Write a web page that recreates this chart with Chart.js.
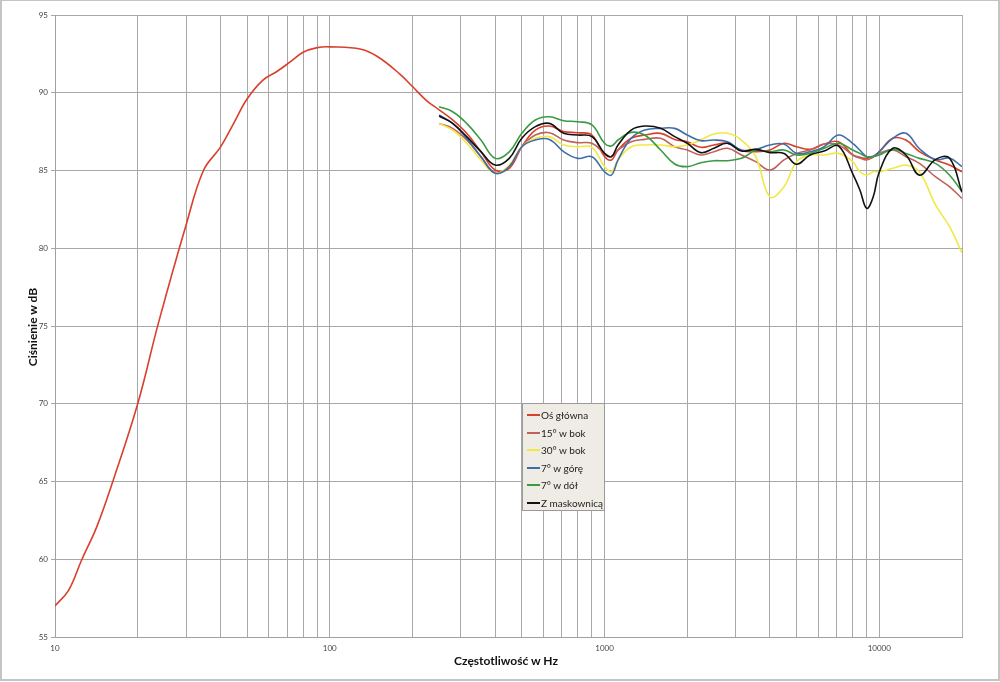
<!DOCTYPE html>
<html>
<head>
<meta charset="utf-8">
<script src="https://cdn.jsdelivr.net/npm/chart.js@4"></script>
<style>
  body { margin: 0; background: #fff; }
  #wrap { position: relative; width: 1000px; height: 682px; }
  #frame { position: absolute; left: 0; top: 0; width: 996px; height: 678px; border: 2px solid #c4c4c4; border-top-width: 1px; pointer-events: none; }
  .axis-title { position: absolute; font-family: Lato, "Noto Sans", sans-serif; font-weight: bold; font-size: 12px; color: #111; white-space: nowrap; }
  #xtitle { left: 506px; top: 653px; transform: translateX(-50%); }
  #ytitle { left: 32px; top: 327px; transform: translate(-50%, -50%) rotate(-90deg); }
  #legend { position: absolute; left: 522px; top: 403px; width: 81px; height: 106px; background: #eeece4; border: 1px solid #9a9a9a; font-family: Lato, "Noto Sans", sans-serif; font-size: 10px; color: #222; }
  #legend div { position: absolute; left: 4px; height: 14px; line-height: 14px; white-space: nowrap; }
  #legend span { display: inline-block; width: 13px; height: 2px; vertical-align: middle; margin-right: 1px; position: relative; top: -1px; }
</style>
</head>
<body>
<div id="wrap">
  <canvas id="chart" width="1000" height="682"></canvas>
  <div id="frame"></div>
  <div class="axis-title" id="xtitle">Częstotliwość w Hz</div>
  <div class="axis-title" id="ytitle">Ciśnienie w dB</div>
  <div id="legend"></div>
</div>
<script>
// low end of the main axis curve (only "Oś główna" goes down here)
const freqLo = [10, 11.2, 12.5, 14.2, 16.3, 20, 23.8, 30, 34.7, 40, 44.6, 50, 57, 64, 72, 80, 90, 100, 130, 150, 180, 200, 225];
const mainLo = [57.0, 58.0, 59.95, 62.1, 65.1, 70.0, 75.2, 81.5, 85.0, 86.5, 88.0, 89.6, 90.8, 91.35, 92.0, 92.6, 92.9, 92.95, 92.8, 92.3, 91.2, 90.4, 89.5];

// all six measurements from 250 Hz up
const freqHi = [250, 280, 315, 355, 400, 450, 500, 560, 630, 710, 800, 900, 1000, 1060, 1120, 1250, 1400, 1600, 1800, 2000,
  2240, 2500, 2800, 3150, 3550, 4000, 4500, 5000, 5600, 6300, 7100, 8000, 8500, 9000, 9500, 10000, 11200, 12500, 14000, 16000, 18000, 20000];
const mainHi = [88.9, 88.25, 87.39, 86.21, 85.03, 85.14, 86.53, 87.6, 87.86, 87.5, 87.43, 87.28, 85.9, 85.68, 86.32, 87.07, 87.28, 87.39, 87.0, 86.85,
  86.49, 86.64, 86.75, 86.28, 86.21, 86.32, 86.75, 86.53, 86.36, 86.7, 86.85, 86.0, 85.85, 85.78, 85.9, 86.21, 87.07, 86.96, 86.21, 85.68, 85.35, 84.92];
const side15 = [88.03, 87.71, 86.96, 85.89, 84.86, 85.25, 86.53, 87.28, 87.43, 86.96, 86.79, 86.75, 86.1, 85.89, 86.32, 86.85, 87.0, 87.07, 86.53, 86.32,
  86.0, 86.21, 86.43, 86.0, 85.57, 85.03, 85.68, 86.1, 86.32, 86.7, 86.64, 86.0, 85.8, 85.68, 85.85, 86.1, 86.32, 85.89, 85.46, 84.6, 83.96, 83.2];
const side30 = [88.03, 87.6, 86.75, 85.68, 84.82, 85.35, 86.53, 87.07, 87.18, 86.64, 86.53, 86.49, 85.25, 84.92, 85.68, 86.53, 86.64, 86.64, 86.53, 86.64,
  86.96, 87.35, 87.39, 86.96, 85.89, 83.3, 83.96, 85.57, 86.0, 86.0, 86.1, 85.57, 84.92, 84.71, 84.92, 84.92, 85.14, 85.35, 84.9, 82.8, 81.4, 79.7];
const up7 = [88.57, 88.03, 87.07, 85.89, 84.82, 85.25, 86.53, 86.96, 87.0, 86.21, 85.78, 85.89, 84.92, 84.71, 85.68, 87.07, 87.6, 87.71, 87.71, 87.28,
  86.92, 86.96, 86.85, 86.32, 86.36, 86.64, 86.7, 86.1, 86.2, 86.53, 87.28, 86.75, 86.3, 85.89, 85.9, 86.21, 87.07, 87.39, 86.4, 85.7, 85.8, 85.25];
const down7 = [89.1, 88.78, 88.03, 86.96, 85.78, 86.2, 87.39, 88.25, 88.46, 88.2, 88.14, 87.93, 86.75, 86.58, 86.96, 87.45, 87.28, 86.32, 85.42, 85.25,
  85.5, 85.63, 85.63, 85.78, 86.28, 86.21, 86.32, 86.0, 86.1, 86.43, 86.75, 86.32, 86.1, 85.89, 85.9, 86.0, 86.36, 86.1, 85.78, 85.46, 84.71, 83.64];
const grille = [88.5, 88.03, 87.18, 86.21, 85.35, 85.78, 87.07, 87.82, 88.03, 87.39, 87.28, 87.18, 86.1, 85.89, 86.64, 87.6, 87.86, 87.71, 87.18, 86.75,
  86.15, 86.43, 86.75, 86.25, 86.36, 86.15, 86.1, 85.4, 86.0, 86.25, 86.58, 84.8, 83.75, 82.57, 83.3, 84.9, 86.43, 86.0, 84.7, 85.7, 85.8, 83.6];

const labels = ['Oś główna', '15° w bok', '30° w bok', '7° w górę', '7° w dół', 'Z maskownicą'];
const colors = ['#d8402c', '#c0625c', '#f2e844', '#3d6ea8', '#3a9a44', '#111111'];
const decadeLabels = [10, 100, 1000, 10000];

function points(freqs, vals) {
  return freqs.map((f, i) => ({ x: f, y: vals[i] }));
}

const series = [
  points(freqLo.concat(freqHi), mainLo.concat(mainHi)),
  points(freqHi, side15),
  points(freqHi, side30),
  points(freqHi, up7),
  points(freqHi, down7),
  points(freqHi, grille)
];

const datasets = series.map((data, i) => ({
  label: labels[i],
  data: data,
  borderColor: colors[i],
  borderWidth: 1.6,
  pointRadius: 0,
  tension: 0.4,
  fill: false,
  order: 6 - i
}));

// log ticks at 1..9 x each decade, up to 20 kHz
function logTicks() {
  const out = [];
  for (let d = 10; d <= 10000; d *= 10) {
    for (let k = 1; k <= 9; k++) {
      if (k * d <= 20000) out.push({ value: k * d });
    }
  }
  out.push({ value: 20000 });
  return out;
}

new Chart(document.getElementById('chart'), {
  type: 'line',
  data: { datasets: datasets },
  options: {
    responsive: false,
    animation: false,
    devicePixelRatio: 1,
    layout: { padding: { left: 0, top: 15, right: 38, bottom: 0 } },
    plugins: { legend: { display: false }, tooltip: { enabled: false } },
    scales: {
      x: {
        type: 'logarithmic',
        min: 10,
        max: 20000,
        afterBuildTicks: (scale) => { scale.ticks = logTicks(); },
        afterFit: (scale) => { scale.height = 45; },
        grid: { color: '#a8a8a8', lineWidth: 1, drawTicks: false },
        border: { color: '#a0a0a0' },
        ticks: {
          autoSkip: false,
          maxRotation: 0,
          padding: 7,
          color: '#444',
          font: { family: 'Lato', size: 8 },
          callback: (v) => decadeLabels.includes(v) ? String(v) : ''
        }
      },
      y: {
        min: 55,
        max: 95,
        afterFit: (scale) => { scale.width = 55; },
        grid: { color: '#a8a8a8', lineWidth: 1, tickLength: 4 },
        border: { color: '#a0a0a0' },
        ticks: { stepSize: 5, padding: 3, color: '#444', font: { family: 'Lato', size: 8 } }
      }
    }
  },
  plugins: [{
    id: 'rightEdge',
    afterDraw(chart) {
      const a = chart.chartArea;
      const ctx = chart.ctx;
      ctx.save();
      ctx.strokeStyle = '#b0b0b0';
      ctx.lineWidth = 1;
      ctx.beginPath();
      ctx.moveTo(Math.round(a.right) + 0.5, a.top);
      ctx.lineTo(Math.round(a.right) + 0.5, a.bottom);
      ctx.stroke();
      ctx.restore();
    }
  }]
});

const legend = document.getElementById('legend');
labels.forEach((name, i) => {
  const row = document.createElement('div');
  row.style.top = (4 + Math.round(i * 17.6)) + 'px';
  row.innerHTML = '<span style="background:' + colors[i] + '"></span>' + name;
  legend.appendChild(row);
});
</script>
</body>
</html>
